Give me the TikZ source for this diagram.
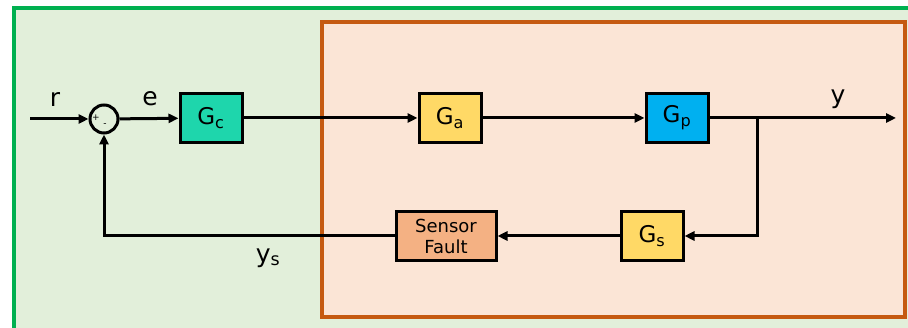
\documentclass[tikz,border=0pt]{standalone}
\usepackage{fontspec}
\setmainfont{DejaVu Sans}
\usetikzlibrary{positioning,arrows.meta,calc}
\definecolor{FrameGreen}{RGB}{0,176,80}
\definecolor{BackGreen}{RGB}{226,239,218}
\definecolor{FrameOrange}{RGB}{197,90,17}
\definecolor{BackOrange}{RGB}{251,229,214}
\definecolor{CtrlTeal}{RGB}{30,214,172}
\definecolor{BlockYellow}{RGB}{255,217,102}
\definecolor{PlantBlue}{RGB}{0,176,240}
\definecolor{FaultPeach}{RGB}{244,177,131}
\tikzset{
  blockbox/.style={draw=black,line width=3pt,minimum width=62pt,minimum height=49pt,inner sep=0pt,font=\fontsize{23}{25}\selectfont},
  sumjunc/.style={draw=black,line width=3pt,circle,minimum size=28pt,inner sep=0pt},
  signal/.style={line width=3pt,-{Triangle[length=10pt,width=9pt]}},
  siglabel/.style={font=\fontsize{25}{27}\selectfont}
}

\begin{document}
\begin{tikzpicture}[x=1pt,y=-1pt]
            \useasboundingbox (0,0) rectangle (908,328);
            % outer and inner regions
            \fill[BackGreen] (14,8) rectangle (908,328);
            \draw[FrameGreen,line width=4pt] (14,328) -- (14,8) -- (908,8);
            \draw[FrameOrange,fill=BackOrange,line width=4.5pt] (322,22) rectangle (905,317);
            % blocks
            \node[sumjunc] (sum) at (104,119) {};
            \node[font=\fontsize{9}{9}\selectfont] (plus) at (96,118) {+};
            \node[font=\fontsize{9}{9}\selectfont] (minus) at (105,125) {-};
            \node[blockbox,fill=CtrlTeal] (gc) at (211,118) {G\textsubscript{c}};
            \node[blockbox,fill=BlockYellow] (ga) at (450,118) {G\textsubscript{a}};
            \node[blockbox,fill=PlantBlue] (gp) at (677,118) {G\textsubscript{p}};
            \node[blockbox,fill=BlockYellow] (gs) at (652,236) {G\textsubscript{s}};
            \node[blockbox,fill=FaultPeach,minimum width=100pt,align=center,font=\fontsize{18}{21}\selectfont] (fault) at (446,236) {Sensor\\Fault};
            \coordinate (in) at (30,119);
            \coordinate (out) at (896,118);
            \coordinate (branch) at (757,118);
            % signals
            \draw[signal] (in) -- (sum);
            \draw[signal] (sum) -- (gc);
            \draw[signal] (gc) -- (ga);
            \draw[signal] (ga) -- (gp);
            \draw[signal] (gp) -- (out);
            \draw[signal] (branch) |- (gs.east);
            \draw[signal] (gs) -- (fault);
            \draw[signal] (fault.west) -| (sum.south);
            % labels
            \node[siglabel] (rlabel) at (55,100) {r};
            \node[siglabel] (elabel) at (150,99) {e};
            \node[siglabel] (ylabel) at (838,99) {y};
            \node[siglabel] (yslabel) at (268,258) {y\textsubscript{s}};
        \end{tikzpicture}
\end{document}
